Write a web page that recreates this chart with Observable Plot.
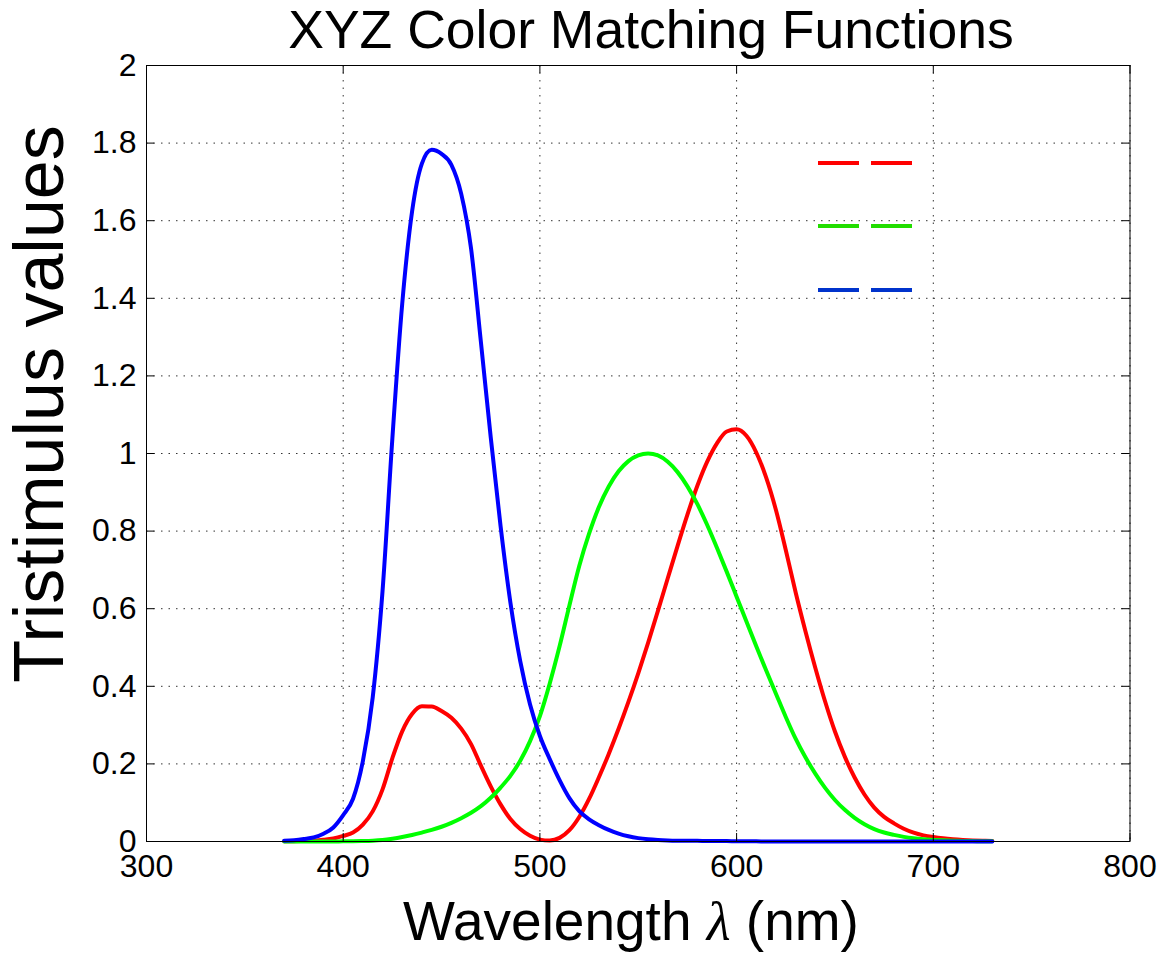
<!DOCTYPE html>
<html><head><meta charset="utf-8">
<script src="https://cdn.jsdelivr.net/npm/d3@7"></script>
<script src="https://cdn.jsdelivr.net/npm/@observablehq/plot@0.6"></script>
<style>
body{margin:0;background:#fff;}
#wrap{position:relative;width:1159px;height:953px;font-family:"Liberation Sans",Arial,Helvetica,sans-serif;}
#title{position:absolute;left:0;top:3px;width:1302px;text-align:center;font-size:53.5px;line-height:53.5px;color:#000;z-index:2;margin:0;font-weight:normal;font-family:"Liberation Sans",Arial,sans-serif;}
#legend{position:absolute;left:0;top:0;z-index:2;}
.lg{position:absolute;height:4px;width:41px;}
</style></head><body>
<div id="wrap"><h1 id="title">XYZ Color Matching Functions</h1><div id="chart"></div><div id="legend"></div></div>
<script>
const wavelength = [370,375,380,385,390,395,400,405,410,415,420,425,430,435,440,445,450,455,460,465,470,475,480,485,490,495,500,505,510,515,520,525,530,535,540,545,550,555,560,565,570,575,580,585,590,595,600,605,610,615,620,625,630,635,640,645,650,655,660,665,670,675,680,685,690,695,700,705,710,715,720,725,730];
const xBar = [0.000415,0.000742,0.001368,0.002236,0.004243,0.00765,0.01431,0.02319,0.04351,0.07763,0.13438,0.21477,0.2839,0.3285,0.34828,0.34806,0.3362,0.3187,0.2908,0.2511,0.19536,0.1421,0.09564,0.05795,0.03201,0.0147,0.0049,0.0024,0.0093,0.0291,0.06327,0.1096,0.1655,0.22575,0.2904,0.3597,0.43345,0.51205,0.5945,0.6784,0.7621,0.8425,0.9163,0.9786,1.0263,1.0567,1.0622,1.0456,1.0026,0.9384,0.85445,0.7514,0.6424,0.5419,0.4479,0.3608,0.2835,0.2187,0.1649,0.1212,0.0874,0.0636,0.04677,0.0329,0.0227,0.01584,0.011359,0.008111,0.00579,0.004109,0.002899,0.002049,0.00144];
const yBar = [0.0000124,0.000022,0.000039,0.000064,0.00012,0.000217,0.000396,0.00064,0.00121,0.00218,0.004,0.0073,0.0116,0.01684,0.023,0.0298,0.038,0.048,0.06,0.0739,0.09098,0.1126,0.13902,0.1693,0.20802,0.2586,0.323,0.4073,0.503,0.6082,0.71,0.7932,0.862,0.91485,0.954,0.9803,0.99495,1.0,0.995,0.9786,0.952,0.9154,0.87,0.8163,0.757,0.6949,0.631,0.5668,0.503,0.4412,0.381,0.321,0.265,0.217,0.175,0.1382,0.107,0.0816,0.061,0.04458,0.032,0.0232,0.017,0.01192,0.00821,0.005723,0.004102,0.002929,0.002091,0.001484,0.001047,0.00074,0.00052];
const zBar = [0.001946,0.003486,0.00645,0.01055,0.02005,0.03621,0.06785,0.1102,0.2074,0.3713,0.6456,1.03905,1.3856,1.62296,1.74706,1.7826,1.77211,1.7441,1.6692,1.5281,1.28764,1.0419,0.81295,0.6162,0.46518,0.3533,0.272,0.2123,0.1582,0.1117,0.07825,0.05725,0.04216,0.02984,0.0203,0.0134,0.00875,0.00575,0.0039,0.00275,0.0021,0.0018,0.00165,0.0014,0.0011,0.001,0.0008,0.0006,0.00034,0.00024,0.00019,0.0001,0.00005,0.00003,0.00002,0.00001,0,0,0,0,0,0,0,0,0,0,0,0,0,0,0,0,0];
const seriesNames = ["x","y","z"];
const lineColors = ["#ff0000","#00ff00","#0000ff"];
const legendColors = ["#ff0000","#22dd00","#0033cc"];
const xTicks = [300,400,500,600,700,800];
const xTickLabels = ["300","400","500","600","700","800"];
const yTicks = [0,0.2,0.4,0.6,0.8,1,1.2,1.4,1.6,1.8,2];
const yTickLabels = ["0","0.2","0.4","0.6","0.8","1","1.2","1.4","1.6","1.8","2"];
const titleText = "XYZ Color Matching Functions";
const xLabelParts = ["Wavelength ", "\u03BB", " (nm)"];
const yLabelText = "Tristimulus values";

const seriesValues = [xBar, yBar, zBar];
const rows = seriesNames.flatMap((s, k) => wavelength.map((w, i) => ({series: s, wavelength: w, value: seriesValues[k][i]})));

const W = 1159, H = 953, mT = 65, mB = 112, mL = 146, mR = 29.5;
const plotH = H - mT - mB;
const font = "Liberation Sans, Arial, Helvetica, sans-serif";

const chart = Plot.plot({
  width: W, height: H,
  marginTop: mT, marginBottom: mB, marginLeft: mL, marginRight: mR,
  style: {background: "transparent", overflow: "visible", fontFamily: font, color: "#000"},
  x: {domain: [300, 800]},
  y: {domain: [0, 2]},
  color: {domain: seriesNames, range: lineColors},
  marks: [
    Plot.ruleX(xTicks, {x: d => d, stroke: "#333", strokeWidth: 1, strokeDasharray: "1.5,6"}),
    Plot.ruleY(yTicks, {y: d => d, stroke: "#333", strokeWidth: 1, strokeDasharray: "1.5,6"}),
    Plot.line(rows, {x: "wavelength", y: "value", z: "series", stroke: "series", strokeWidth: 4, curve: "monotone-x"}),
    Plot.ruleX(xTicks, {x: d => d, stroke: "#000", strokeWidth: 1, insetBottom: plotH - 8}),
    Plot.ruleX(xTicks, {x: d => d, stroke: "#000", strokeWidth: 1, insetTop: plotH - 8}),
    Plot.ruleY(yTicks, {y: d => d, stroke: "#000", strokeWidth: 1, insetRight: (W - mL - mR) - 8}),
    Plot.ruleY(yTicks, {y: d => d, stroke: "#000", strokeWidth: 1, insetLeft: (W - mL - mR) - 8}),
    Plot.axisX({ticks: xTicks, tickSize: 0, tickPadding: 13, fontSize: 32, label: null,
      tickFormat: d => xTickLabels[xTicks.indexOf(d)]}),
    Plot.axisY({ticks: yTicks, tickSize: 0, tickPadding: 10, fontSize: 32, label: null,
      tickFormat: d => yTickLabels[yTicks.indexOf(d)]}),
    Plot.frame({stroke: "#000", strokeWidth: 1})
  ]
});
document.getElementById("chart").appendChild(chart);
document.getElementById("title").textContent = titleText;

const svg = d3.select(chart);
const xl = svg.append("text")
  .attr("x", 631).attr("y", 940)
  .attr("text-anchor", "middle")
  .attr("font-size", 55).attr("font-family", font).attr("fill", "#000");
xl.append("tspan").text(xLabelParts[0]);
xl.append("tspan").attr("font-family", "Liberation Serif, DejaVu Serif, serif").attr("font-style", "italic").text(xLabelParts[1]);
xl.append("tspan").text(xLabelParts[2]);

svg.append("text")
  .attr("transform", "translate(63,404) rotate(-90)")
  .attr("text-anchor", "middle")
  .attr("font-size", 70).attr("font-family", font).attr("fill", "#000")
  .text(yLabelText);

const legendY = [163, 226, 290];
const lg = d3.select("#legend");
legendColors.forEach((c, i) => {
  [818, 871].forEach(x0 => {
    lg.append("div").attr("class", "lg")
      .style("left", x0 + "px").style("top", (legendY[i] - 2) + "px")
      .style("background", c);
  });
});
</script>
</body></html>
